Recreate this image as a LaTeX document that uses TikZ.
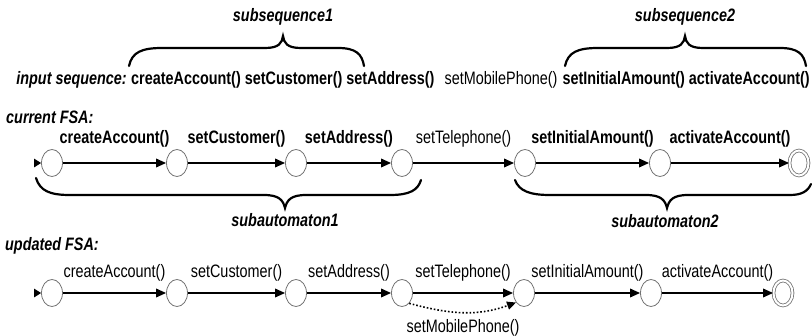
\documentclass[tikz,border=0pt]{standalone}
\usepackage{fontspec}
\setmainfont{Liberation Sans}[FakeStretch=0.8]
\usetikzlibrary{arrows.meta,shapes.geometric}
\begin{document}
\begin{tikzpicture}[x=1pt,y=-1pt,
  txt/.style={inner sep=0pt,font=\fontsize{18}{20}\selectfont},
  bi/.style={txt,font=\fontsize{18}{20}\selectfont\bfseries\itshape},
  bb/.style={txt,font=\fontsize{18}{20}\selectfont\bfseries},
  st/.style={ellipse,draw=black!55,line width=0.8pt,minimum width=21pt,minimum height=27pt,inner sep=0pt},
  acc/.style={st,double=white,double distance=2pt,minimum width=19pt,minimum height=25pt},
  edge/.style={line width=1.8pt,-{Triangle[length=10pt,width=8.5pt]}},
  initarr/.style={-{Triangle[length=7pt,width=8.5pt]},line width=1pt},
  lblA/.style={bb,above=15pt,midway},
  lblR/.style={txt,above=15pt,midway},
  lblB/.style={txt,above=11pt,midway},
  brace/.style={line width=2.2pt,line cap=round}
]
\useasboundingbox (0,0) rectangle (812,335);

% ---- top line
\node[bi] (sub1) at (283,17) {subsequence1};
\node[bi] (sub2) at (685,17) {subsequence2};
\draw[brace] (129,66) .. controls (132,52) and (142,48) .. (162,48) -- (265,48)
  .. controls (279,48) and (282,43) .. (283,36) .. controls (284,43) and (287,48) .. (301,48)
  -- (338,48) .. controls (356,48) and (362,54) .. (364,66);
\draw[brace] (565,66) .. controls (568,52) and (578,48) .. (598,48) -- (667,48)
  .. controls (681,48) and (684,43) .. (685,36) .. controls (686,43) and (689,48) .. (703,48)
  -- (780,48) .. controls (798,48) and (804,54) .. (806,66);

\node[bi,anchor=base east] (inseq) at (127,84) {input sequence:};
\node[bb,anchor=base west] (seq1) at (131,84) {createAccount() setCustomer() setAddress()};
\node[txt,anchor=base] (seqm) at (501,84) {setMobilePhone()};
\node[bb,anchor=base east] (seq2) at (810,84) {setInitialAmount() activateAccount()};

% ---- current FSA
\node[bi,anchor=west] (cur) at (6,117) {current FSA:};
\node[st] (a1) at (52,163) {};
\node[st] (a2) at (177,163) {};
\node[st] (a3) at (296,163) {};
\node[st] (a4) at (402,163) {};
\node[st] (a5) at (525,163) {};
\node[st] (a6) at (660,163) {};
\node[acc] (a7) at (799,163) {};
\coordinate (i1) at (34,163);
\draw[initarr] (i1) -- (a1);
\draw[edge] (a1) -- node[lblA]{createAccount()} (a2);
\draw[edge] (a2) -- node[lblA]{setCustomer()} (a3);
\draw[edge] (a3) -- node[lblA]{setAddress()} (a4);
\draw[edge] (a4) -- node[lblR]{setTelephone()} (a5);
\draw[edge] (a5) -- node[lblA]{setInitialAmount()} (a6);
\draw[edge] (a6) -- node[lblA]{activateAccount()} (a7);

\draw[brace] (36,178) .. controls (40,191) and (50,195) .. (70,195) -- (264,195)
  .. controls (279,195) and (283,200) .. (285,208) .. controls (287,200) and (291,195) .. (306,195)
  -- (390,195) .. controls (410,195) and (418,190) .. (421,180);
\draw[brace] (515,180) .. controls (519,191) and (530,195) .. (550,195) -- (646,195)
  .. controls (661,195) and (665,200) .. (667,208) .. controls (669,200) and (673,195) .. (688,195)
  -- (790,195) .. controls (802,195) and (808,191) .. (811,184);
\node[bi] (sa1) at (285,220) {subautomaton1};
\node[bi] (sa2) at (665,221) {subautomaton2};

% ---- updated FSA
\node[bi,anchor=west] (upd) at (5,246) {updated FSA:};
\node[st] (b1) at (52,293) {};
\node[st] (b2) at (177,293) {};
\node[st] (b3) at (296,293) {};
\node[st] (b4) at (402,293) {};
\node[st] (b5) at (524,293) {};
\node[st] (b6) at (651,293) {};
\node[acc] (b7) at (783,293) {};
\coordinate (i2) at (34,293);
\draw[initarr] (i2) -- (b1);
\draw[edge] (b1) -- node[lblB]{createAccount()} (b2);
\draw[edge] (b2) -- node[lblB]{setCustomer()} (b3);
\draw[edge] (b3) -- node[lblB]{setAddress()} (b4);
\draw[edge] (b4) -- node[lblB]{setTelephone()} (b5);
\draw[edge] (b5) -- node[lblB]{setInitialAmount()} (b6);
\draw[edge] (b6) -- node[lblB]{activateAccount()} (b7);
\draw[line width=1.6pt,dotted,-{Triangle[length=9pt,width=8pt]}] (b4.-55) to[out=-15,in=-160] node[txt,below=6pt,midway]{setMobilePhone()} (b5.-130);
\end{tikzpicture}
\end{document}
